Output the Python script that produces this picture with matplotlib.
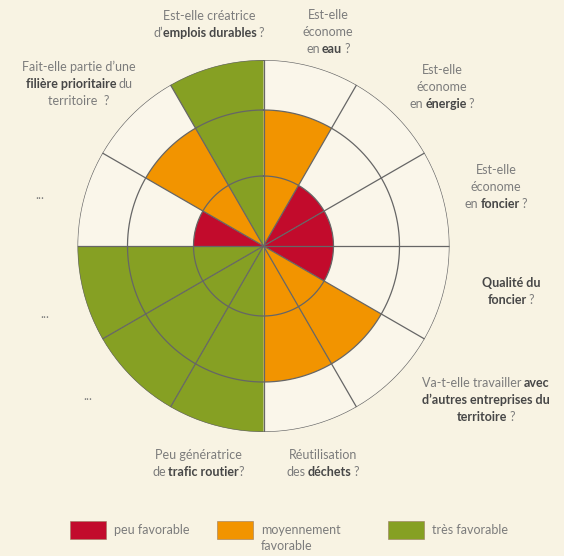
import numpy as np
import matplotlib
matplotlib.use('Agg')
import matplotlib.pyplot as plt
from matplotlib.patches import Rectangle
from matplotlib.transforms import IdentityTransform

# one value per sector, clockwise from 12 o'clock (1 = peu, 2 = moyennement, 3 = très favorable)
criteria = ['eau', 'énergie', 'foncier', 'qualité du foncier', 'autres entreprises',
            'déchets', 'trafic routier', '...', '...', '...', 'filière prioritaire',
            'emplois durables']
levels = [2, 1, 1, 1, 2, 2, 3, 3, 3, 1, 2, 3]

# sector captions, **bold** parts marked
captions = [
    ['Est-elle', 'économe', 'en **eau** ?'],
    ['Est-elle', 'économe', 'en **énergie** ?'],
    ['Est-elle', 'économe', 'en **foncier** ?'],
    ['**Qualité du**', '**foncier** ?'],
    ['Va-t-elle travailler **avec**', '**d’autres entreprises du**', '**territoire** ?'],
    ['Réutilisation', 'des **déchets** ?'],
    ['Peu génératrice', 'de **trafic routier**?'],
    ['...'],
    ['...'],
    ['...'],
    ['Fait-elle partie d’une', '**filière prioritaire** du', 'territoire  ?'],
    ['Est-elle créatrice', 'd’**emplois durables** ?'],
]
level_names = ['peu favorable', 'moyennement\nfavorable', 'très favorable']

# layout (pixels in the 564x556 image, y from top)
W, H = 564, 556
CX, CY = 263.5, 246
RINGS = [70, 136, 186]
caption_xy = [(328, 15), (442, 70), (496, 170), (511, 283), (486, 383), (323, 455),
              (198, 455), (88, 396), (45, 314), (40, 195), (79, 67), (209, 16)]
legend_x = [70, 217, 388]

RED, ORANGE, GREEN = '#c20b2c', '#f29400', '#86a023'
level_colors = {1: RED, 2: ORANGE, 3: GREEN}
BG = '#f8f3e3'
GRID = '#666666'
TXT = '#7c7c7c'
TXT_B = '#474747'
FONT = 'Lato'
FS = 9

fig = plt.figure(figsize=(W / 100, H / 100), dpi=100, facecolor=BG)
R = RINGS[-1]
ax = fig.add_axes([(CX - R) / W, (H - CY - R) / H, 2 * R / W, 2 * R / H],
                  projection='polar')
ax.set_facecolor('#faf6ea')
ax.set_theta_zero_location('N')
ax.set_theta_direction(-1)

n = len(levels)
step = 2 * np.pi / n
theta = np.arange(n) * step + step / 2
radius = [RINGS[v - 1] for v in levels]
ax.bar(theta, radius, width=step, color=[level_colors[v] for v in levels],
       edgecolor='none', zorder=2)

# rings and spokes
t = np.linspace(0, 2 * np.pi, 500)
for r in RINGS:
    ax.plot(t, np.full_like(t, r), color=GRID, lw=0.9, zorder=3)
for a in np.arange(n) * step:
    ax.plot([a, a], [0, R], color=GRID, lw=0.9, zorder=3)

ax.set_ylim(0, R)
ax.set_xticks([])
ax.set_yticks([])
ax.grid(False)
ax.spines['polar'].set_visible(False)

renderer = fig.canvas.get_renderer()
SPACE = 2.0  # word gap in pixels


def draw_line(x, y, line, align='center'):
    parts = line.split('**')
    placed = []
    off = 0
    for i, p in enumerate(parts):
        if not p:
            continue
        bold = i % 2 == 1
        lead = len(p) - len(p.lstrip(' '))
        trail = len(p) - len(p.rstrip(' '))
        off += lead * SPACE
        tt = fig.text(0, 0, p.strip(' '), fontsize=FS, family=FONT,
                      weight='bold' if bold else 'normal',
                      color=TXT_B if bold else TXT, va='center', ha='left',
                      transform=IdentityTransform())
        placed.append((tt, off))
        off += tt.get_window_extent(renderer).width + trail * SPACE
    x0 = x - off / 2 if align == 'center' else x
    for tt, o in placed:
        tt.set_position((x0 + o, H - y))


for lines, (x, y) in zip(captions, caption_xy):
    for k, line in enumerate(lines):
        draw_line(x, y + k * 16.8, line)

# legend
for lv, name, x in zip([1, 2, 3], level_names, legend_x):
    fig.patches.append(Rectangle((x, H - 539), 36, 18, transform=IdentityTransform(),
                                 facecolor=level_colors[lv], edgecolor='#9a7a60', lw=0.4))
    for k, line in enumerate(name.split('\n')):
        draw_line(x + 44, 530 + k * 16.5, line, align='left')

fig.savefig('out.png', dpi=100, facecolor=BG)
